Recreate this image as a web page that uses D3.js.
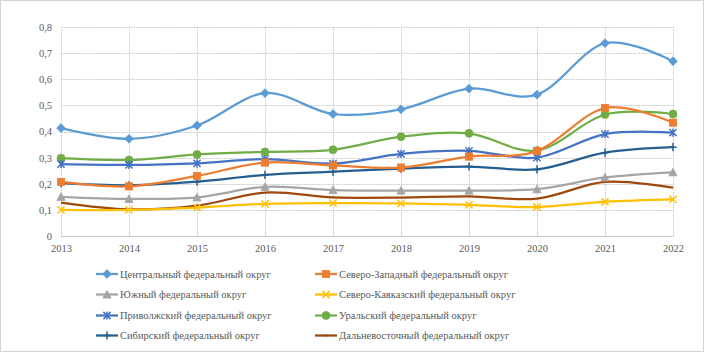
<!DOCTYPE html>
<html>
<head>
<meta charset="utf-8">
<script src="https://cdn.jsdelivr.net/npm/d3@7"></script>
<style>
  body { margin: 0; background: #fff; }
  svg { display: block; }
</style>
</head>
<body>
<div id="wrapper"></div>
<script>
const years = [2013, 2014, 2015, 2016, 2017, 2018, 2019, 2020, 2021, 2022];
const yTicks = [0, 0.1, 0.2, 0.3, 0.4, 0.5, 0.6, 0.7, 0.8];

const seriesNames = [
  "Центральный федеральный округ",
  "Северо-Западный федеральный округ",
  "Южный федеральный округ",
  "Северо-Кавказский федеральный округ",
  "Приволжский федеральный округ",
  "Уральский федеральный округ",
  "Сибирский федеральный округ",
  "Дальневосточный федеральный округ",
];

const central = [0.413, 0.372, 0.423, 0.547, 0.467, 0.485, 0.564, 0.541, 0.738, 0.669];
const northWest = [0.207, 0.19, 0.23, 0.281, 0.27, 0.262, 0.304, 0.325, 0.49, 0.434];
const south = [0.15, 0.142, 0.148, 0.188, 0.176, 0.174, 0.174, 0.179, 0.224, 0.244];
const northCaucasus = [0.1, 0.1, 0.109, 0.123, 0.126, 0.125, 0.119, 0.111, 0.131, 0.14];
const volga = [0.275, 0.272, 0.278, 0.294, 0.277, 0.314, 0.326, 0.3, 0.39, 0.396];
const ural = [0.298, 0.291, 0.312, 0.322, 0.33, 0.38, 0.393, 0.327, 0.465, 0.467];
const siberia = [0.202, 0.194, 0.208, 0.234, 0.246, 0.258, 0.266, 0.255, 0.319, 0.34];
const farEast = [0.128, 0.102, 0.116, 0.166, 0.148, 0.147, 0.152, 0.143, 0.207, 0.185];

const seriesValues = [central, northWest, south, northCaucasus, volga, ural, siberia, farEast];
const seriesColors = ["#5B9BD5", "#ED7D31", "#A5A5A5", "#FFC000", "#4472C4", "#70AD47", "#255E91", "#9E480E"];
const seriesMarkers = ["diamond", "square", "triangle", "x", "star", "circle", "plus", "dash"];

const fontFamily = "'Liberation Serif', 'Times New Roman', Tinos, 'DejaVu Serif', serif";

const width = 704;
const height = 352;
const margin = { top: 27, right: 31, bottom: 116, left: 61 };

const svg = d3.select("#wrapper").append("svg")
  .attr("width", width)
  .attr("height", height);

// outer dotted border
svg.append("rect")
  .attr("x", 0.5).attr("y", 0.5)
  .attr("width", width - 1).attr("height", height - 1)
  .attr("fill", "none")
  .attr("stroke", "#a6a6a6")
  .attr("stroke-dasharray", "1,1");

const xScale = d3.scalePoint()
  .domain(years)
  .range([margin.left, width - margin.right]);

const yScale = d3.scaleLinear()
  .domain([0, 0.8])
  .range([height - margin.bottom, margin.top]);

// grid
const grid = svg.append("g");
grid.selectAll(".hgrid")
  .data(yTicks)
  .join("line")
  .attr("x1", margin.left).attr("x2", width - margin.right)
  .attr("y1", d => Math.round(yScale(d)) + 0.5)
  .attr("y2", d => Math.round(yScale(d)) + 0.5)
  .attr("stroke", "#c8c8c8")
  .attr("stroke-dasharray", d => d === 0 ? null : "1.5,1");
grid.selectAll(".vgrid")
  .data(years)
  .join("line")
  .attr("x1", d => Math.round(xScale(d)) + 0.5)
  .attr("x2", d => Math.round(xScale(d)) + 0.5)
  .attr("y1", margin.top).attr("y2", height - margin.bottom)
  .attr("stroke", "#c8c8c8")
  .attr("stroke-dasharray", "1.5,1");

function styleText(sel) {
  sel.style("font-family", fontFamily)
    .style("font-size", "10.5px")
    .style("fill", "#595959");
}

// axes labels
const yAxis = d3.axisLeft(yScale)
  .tickValues(yTicks)
  .tickSize(0)
  .tickPadding(9)
  .tickFormat(d => d === 0 ? "0" : d3.format(".1f")(d).replace(".", ","));
svg.append("g")
  .attr("transform", `translate(${margin.left},0)`)
  .call(yAxis)
  .call(g => g.select(".domain").remove())
  .call(g => g.attr("font-family", null).attr("font-size", null))
  .call(g => styleText(g.selectAll("text")));

const xAxis = d3.axisBottom(xScale).tickSize(0).tickPadding(9);
svg.append("g")
  .attr("transform", `translate(0,${height - margin.bottom})`)
  .call(xAxis)
  .call(g => g.select(".domain").remove())
  .call(g => g.attr("font-family", null).attr("font-size", null))
  .call(g => styleText(g.selectAll("text")));

// marker drawing
function drawMarker(g, type, x, y, color) {
  const s = 3.6;
  if (type === "diamond") {
    g.append("path").attr("d", `M${x},${y - s - 0.8}L${x + s + 0.8},${y}L${x},${y + s + 0.8}L${x - s - 0.8},${y}Z`)
      .attr("fill", color).attr("stroke", color).attr("stroke-width", 0.8);
  } else if (type === "square") {
    g.append("rect").attr("x", x - s).attr("y", y - s).attr("width", 2 * s).attr("height", 2 * s)
      .attr("fill", color).attr("stroke", color).attr("stroke-width", 0.8);
  } else if (type === "triangle") {
    g.append("path").attr("d", `M${x},${y - s - 0.5}L${x + s + 0.5},${y + s}L${x - s - 0.5},${y + s}Z`)
      .attr("fill", color).attr("stroke", color).attr("stroke-width", 0.8);
  } else if (type === "circle") {
    g.append("circle").attr("cx", x).attr("cy", y).attr("r", s + 0.4)
      .attr("fill", color).attr("stroke", color).attr("stroke-width", 0.8);
  } else if (type === "x") {
    g.append("path").attr("d", `M${x - s},${y - s}L${x + s},${y + s}M${x - s},${y + s}L${x + s},${y - s}`)
      .attr("stroke", color).attr("stroke-width", 1.5).attr("fill", "none");
  } else if (type === "star") {
    g.append("path").attr("d", `M${x - s},${y - s}L${x + s},${y + s}M${x - s},${y + s}L${x + s},${y - s}M${x},${y - s - 0.5}L${x},${y + s + 0.5}`)
      .attr("stroke", color).attr("stroke-width", 1.5).attr("fill", "none");
  } else if (type === "plus") {
    g.append("path").attr("d", `M${x - s},${y}L${x + s},${y}M${x},${y - s - 0.5}L${x},${y + s + 0.5}`)
      .attr("stroke", color).attr("stroke-width", 1.5).attr("fill", "none");
  } else if (type === "dash") {
    g.append("path").attr("d", `M${x - s},${y}L${x + s},${y}`)
      .attr("stroke", color).attr("stroke-width", 1.5).attr("fill", "none");
  }
}

const lineGenerator = d3.line()
  .x((d, i) => xScale(years[i]))
  .y(d => yScale(d))
  .curve(d3.curveCardinal.tension(0));

// draw series in reverse order so the first series stays on top
const seriesGroup = svg.append("g");
d3.range(seriesValues.length).reverse().forEach(k => {
  const g = seriesGroup.append("g");
  g.append("path")
    .attr("d", lineGenerator(seriesValues[k]))
    .attr("fill", "none")
    .attr("stroke", seriesColors[k])
    .attr("stroke-width", 2.25)
    .attr("stroke-linejoin", "round");
  if (seriesMarkers[k] !== "dash") {
    seriesValues[k].forEach((v, i) => {
      drawMarker(g, seriesMarkers[k], xScale(years[i]), yScale(v), seriesColors[k]);
    });
  }
});

// legend
const legend = svg.append("g");
const legendCols = [96, 315];
const legendRows = [274, 294.5, 315.5, 335.5];
seriesNames.forEach((name, k) => {
  const x = legendCols[k % 2];
  const y = legendRows[Math.floor(k / 2)];
  legend.append("line")
    .attr("x1", x).attr("x2", x + 22)
    .attr("y1", y).attr("y2", y)
    .attr("stroke", seriesColors[k])
    .attr("stroke-width", 2.25);
  drawMarker(legend, seriesMarkers[k], x + 11, y, seriesColors[k]);
  legend.append("text")
    .attr("x", x + 24)
    .attr("y", y)
    .attr("dy", "0.35em")
    .text(name)
    .call(styleText);
});
</script>
</body>
</html>
